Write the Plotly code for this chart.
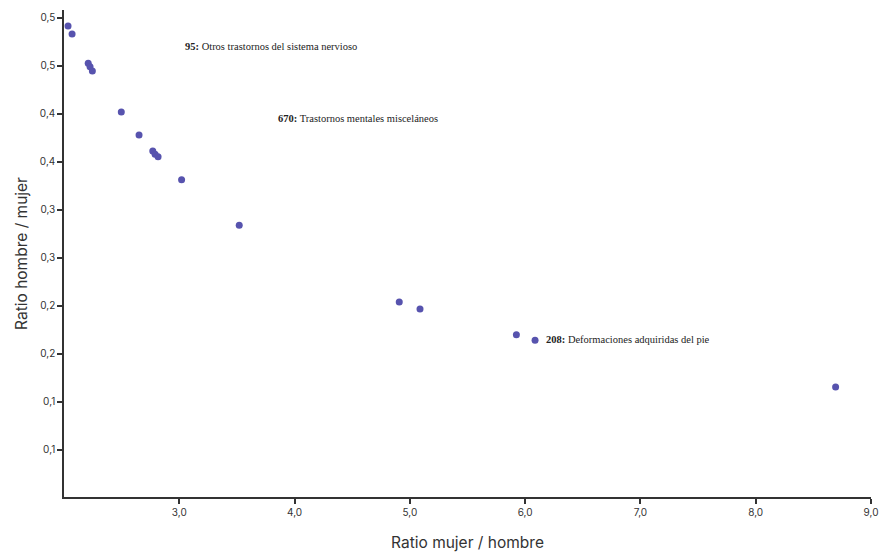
import plotly.graph_objects as go

# Data
ratio_mujer_hombre = [2.035, 2.07, 2.21, 2.226, 2.246, 2.497, 2.651, 2.77, 2.79, 2.816,
                      3.02, 3.52, 4.908, 5.088, 5.924, 6.086, 8.693]
ratio_hombre_mujer = [0.5417, 0.5333, 0.5028, 0.4993, 0.4948, 0.452, 0.428, 0.4115, 0.408, 0.4055,
                      0.3816, 0.334, 0.254, 0.2469, 0.2201, 0.2143, 0.1656]

x_tickvals = [3, 4, 5, 6, 7, 8, 9]
x_ticktext = ["3,0", "4,0", "5,0", "6,0", "7,0", "8,0", "9,0"]
y_tickvals = [0.10, 0.15, 0.20, 0.25, 0.30, 0.35, 0.40, 0.45, 0.50, 0.55]
y_ticktext = ["0,1", "0,1", "0,2", "0,2", "0,3", "0,3", "0,4", "0,4", "0,5", "0,5"]

label_codes = ["95", "670", "208"]
label_names = ["Otros trastornos del sistema nervioso", "Trastornos mentales misceláneos",
               "Deformaciones adquiridas del pie"]
label_x = [3.035, 3.84, 6.16]
label_y = [0.5198, 0.4448, 0.2146]

fig = go.Figure()
fig.add_trace(go.Scatter(
    x=ratio_mujer_hombre, y=ratio_hombre_mujer, mode="markers",
    marker=dict(size=7, color="#5753ae"), hoverinfo="x+y", showlegend=False))

for c, n, lx, ly in zip(label_codes, label_names, label_x, label_y):
    fig.add_annotation(x=lx, y=ly, xref="x", yref="y", text=f"<b>{c}:</b> {n}",
                       showarrow=False, xanchor="left", yanchor="middle",
                       font=dict(family="Liberation Serif, serif", size=10.5, color="#222"))

axis_common = dict(showline=True, linecolor="#333", linewidth=1.5, ticks="outside",
                   ticklen=5, tickwidth=1.5, tickcolor="#333", showgrid=False, zeroline=False,
                   automargin=False,
                   tickfont=dict(family="Inter, sans-serif", size=10, color="#333"))

fig.update_layout(
    width=892, height=554,
    margin=dict(l=64, r=21, t=10, b=57),
    plot_bgcolor="white", paper_bgcolor="white",
    xaxis=dict(range=[2, 9], tickvals=x_tickvals, ticktext=x_ticktext,
               title=dict(text="Ratio mujer / hombre", standoff=20,
                          font=dict(family="Inter, sans-serif", size=15.5, color="#333")),
               **axis_common),
    yaxis=dict(range=[0.051, 0.5583], tickvals=y_tickvals, ticktext=y_ticktext,
               title=dict(text="Ratio hombre / mujer", standoff=8,
                          font=dict(family="Inter, sans-serif", size=15.5, color="#333")),
               **axis_common),
)

fig.write_html("out.html", config={"displayModeBar": False},
               post_script="document.body.style.margin='0';")
